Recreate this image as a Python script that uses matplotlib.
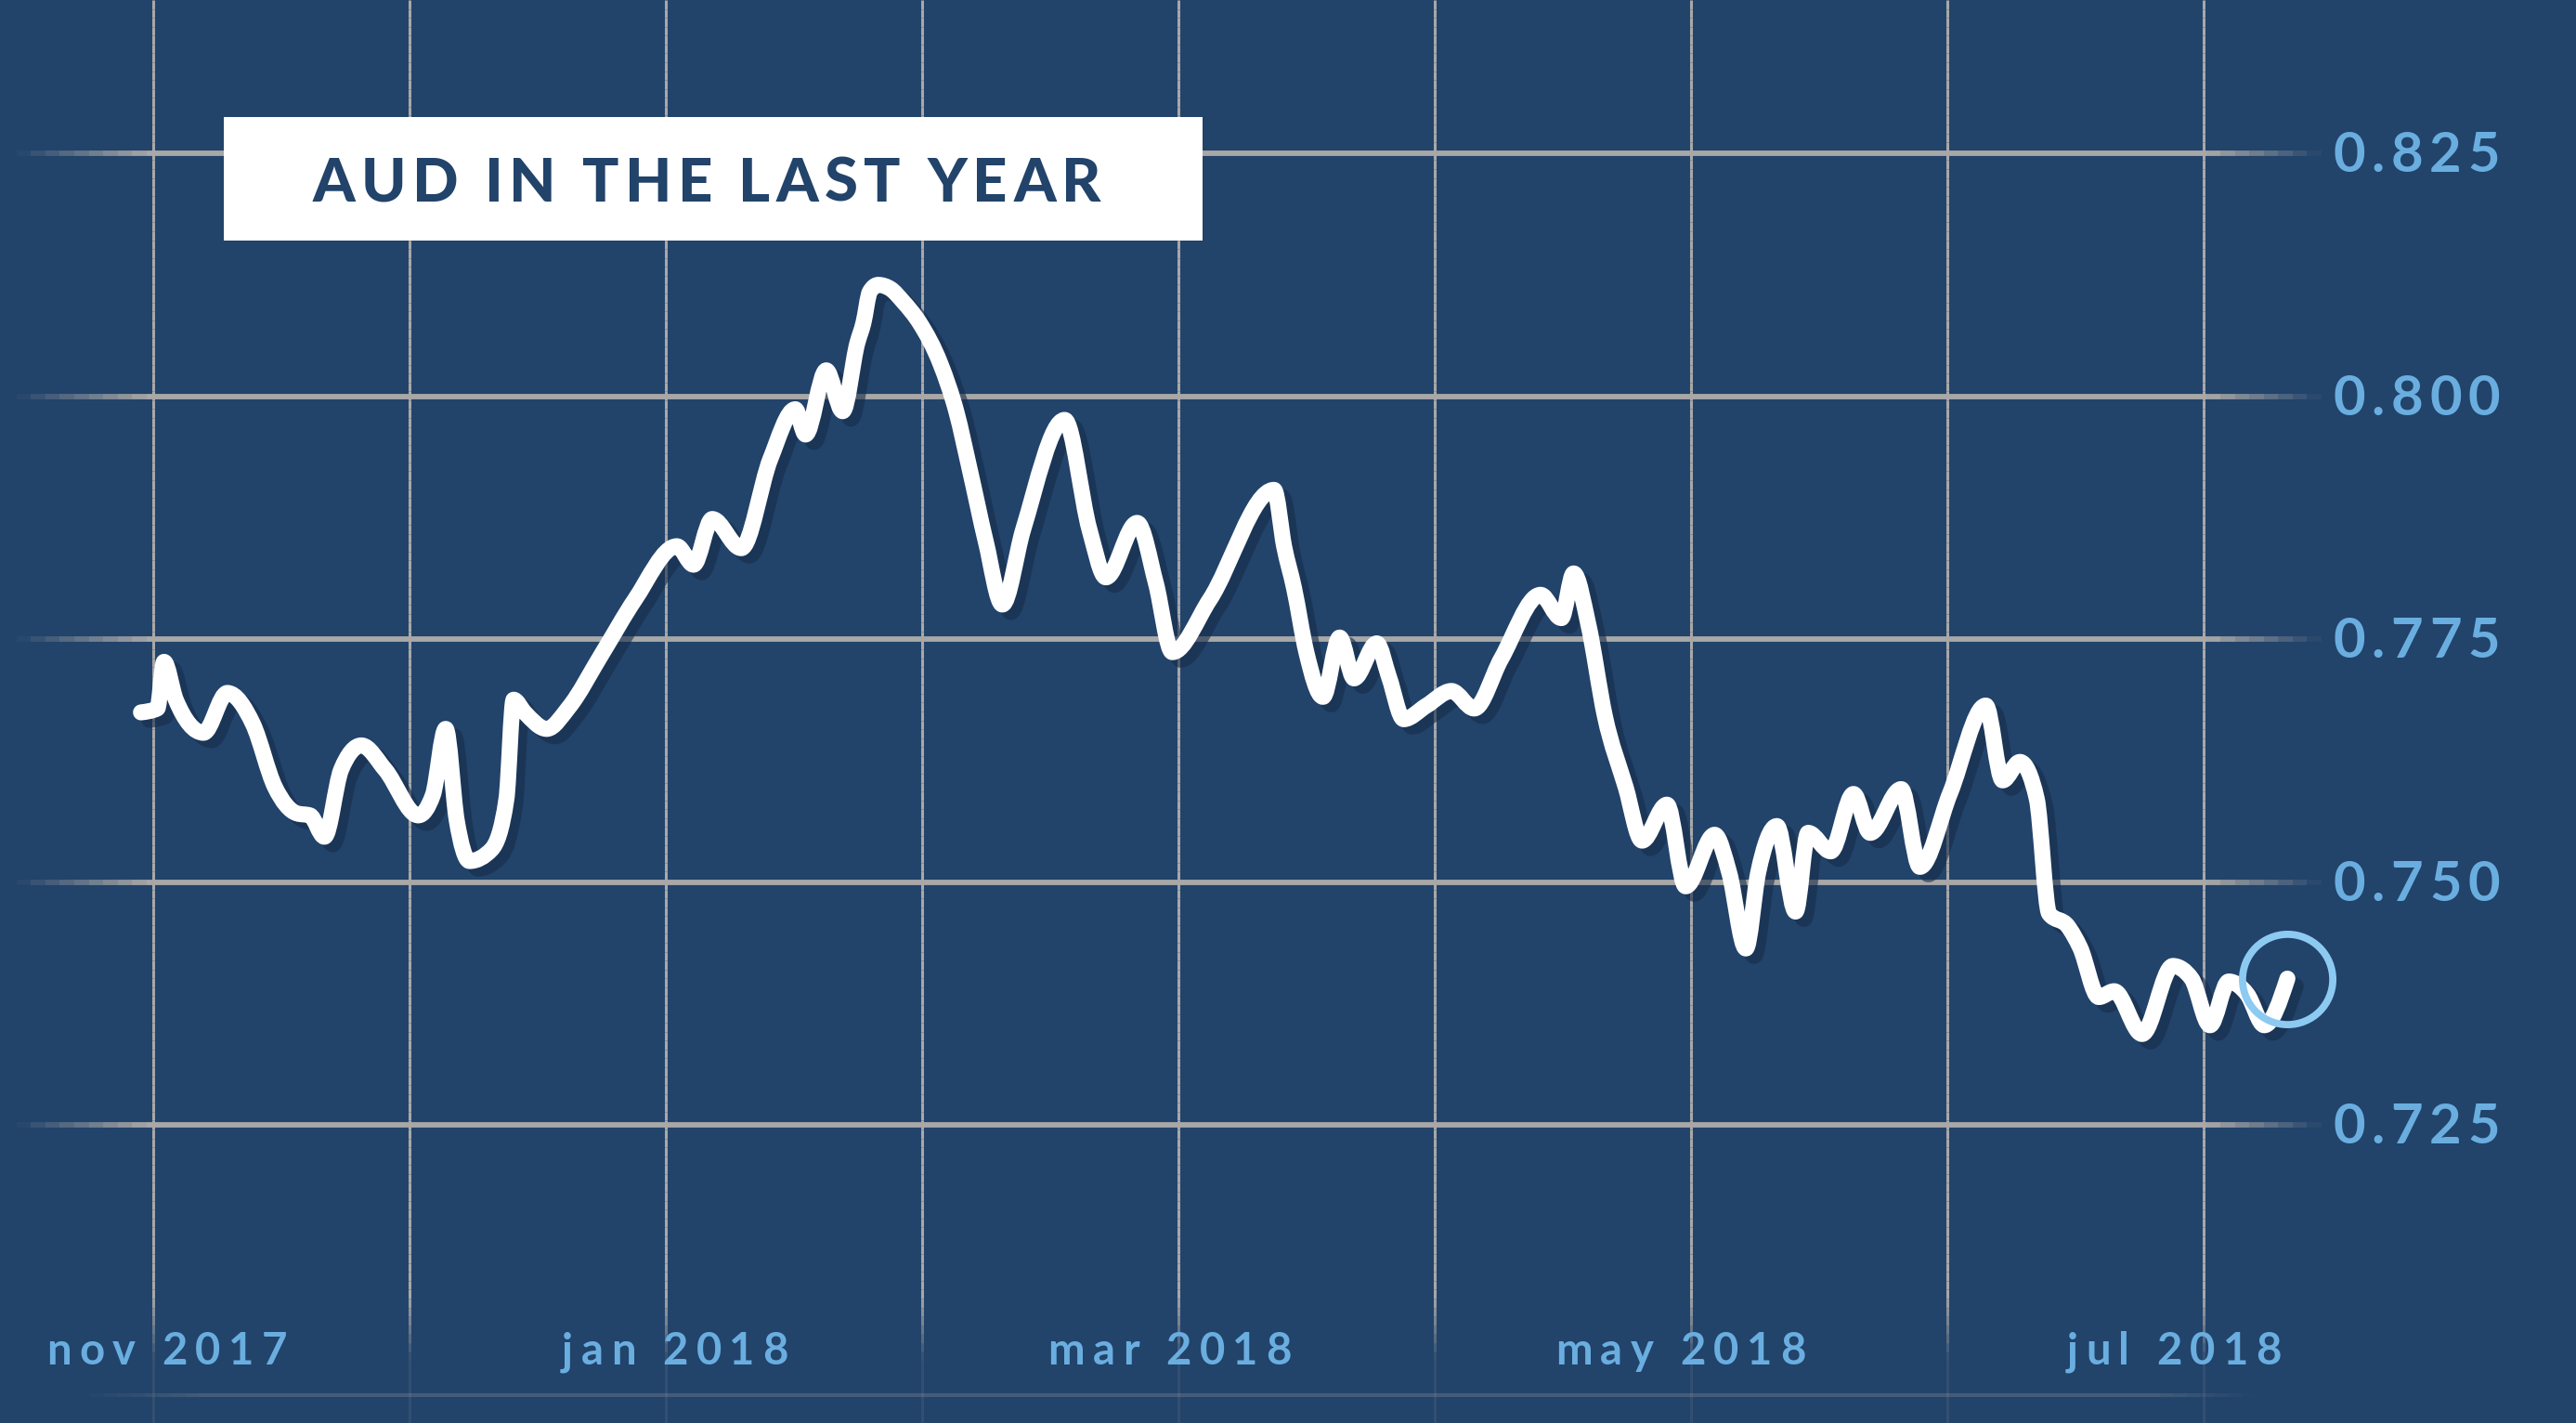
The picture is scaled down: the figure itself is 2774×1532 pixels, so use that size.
import matplotlib
matplotlib.use("Agg")
import matplotlib.pyplot as plt
import matplotlib.transforms as mtransforms
import numpy as np
from matplotlib.collections import LineCollection
from matplotlib.patches import Rectangle, PathPatch
from matplotlib.path import Path

# x is a month index: 0 = nov 2017, 1 = dec 2017 ... 8 = jul 2018
month_pos = [
    -0.048, 0.016, 0.042, 0.088, 0.196, 0.289, 0.389, 0.475, 0.561, 0.611,
    0.668, 0.733, 0.812, 0.905, 1.034, 1.091, 1.141, 1.184, 1.234, 1.320,
    1.378, 1.406, 1.449, 1.535, 1.621, 1.750, 1.879, 2.043, 2.108, 2.181,
    2.294, 2.408, 2.505, 2.545, 2.626, 2.690, 2.747, 2.771, 2.796, 2.828,
    2.876, 2.925, 2.990, 3.071, 3.135, 3.184, 3.249, 3.313, 3.394, 3.556,
    3.653, 3.717, 3.839, 3.912, 3.976, 4.122, 4.373, 4.413, 4.451,
    4.499, 4.564, 4.629, 4.685, 4.774, 4.822, 4.879, 4.968, 5.065, 5.154,
    5.259, 5.413, 5.494, 5.542, 5.599, 5.664, 5.745, 5.809, 5.906, 5.979,
    6.092, 6.149, 6.214, 6.262, 6.335, 6.408, 6.457, 6.545, 6.634, 6.699,
    6.820, 6.893, 7.011, 7.150, 7.216, 7.283, 7.349, 7.397, 7.470, 7.518,
    7.591, 7.651, 7.760, 7.880, 7.953, 8.025, 8.098, 8.170, 8.237, 8.327,
]
aud_usd = [
    0.7675, 0.7679, 0.7727, 0.7688, 0.7654, 0.7695, 0.7663, 0.7598, 0.7571, 0.7569,
    0.7547, 0.7616, 0.7641, 0.7616, 0.7569, 0.7590, 0.7658, 0.7564, 0.7522, 0.7534,
    0.7586, 0.7688, 0.7675, 0.7658, 0.7680, 0.7735, 0.7791, 0.7846, 0.7827, 0.7874,
    0.7844, 0.7936, 0.7987, 0.7961, 0.8027, 0.7985, 0.8055, 0.8076, 0.8108, 0.8115,
    0.8111, 0.8098, 0.8076, 0.8034, 0.7983, 0.7927, 0.7850, 0.7786, 0.7863, 0.7976,
    0.7863, 0.7814, 0.7870, 0.7808, 0.7737, 0.7791, 0.7904, 0.7845, 0.7803,
    0.7737, 0.7691, 0.7752, 0.7710, 0.7746, 0.7711, 0.7668, 0.7682, 0.7697, 0.7679,
    0.7730, 0.7796, 0.7772, 0.7818, 0.7766, 0.7671, 0.7598, 0.7543, 0.7580, 0.7496,
    0.7549, 0.7510, 0.7432, 0.7510, 0.7558, 0.7470, 0.7551, 0.7532, 0.7591, 0.7551,
    0.7596, 0.7516, 0.7592, 0.7682, 0.7605, 0.7624, 0.7586, 0.7468, 0.7455, 0.7433,
    0.7382, 0.7388, 0.7344, 0.7414, 0.7401, 0.7353, 0.7398, 0.7385, 0.7353, 0.7401,
]

grid_months = list(range(9))
tick_months = [0.053, 2.036, 3.966, 5.959, 7.885]
tick_labels = ["nov 2017", "jan 2018", "mar 2018", "may 2018", "jul 2018"]
y_ticks = [0.725, 0.750, 0.775, 0.800, 0.825]
title = "AUD IN THE LAST YEAR"

BG = "#22436a"
GRID = "#a8a8a8"
LABEL = "#6aaee0"
RING = "#8ccaf2"
SHADOW = "#162c4a"
FONT = ["Lato", "DejaVu Sans"]

fig = plt.figure(figsize=(13.87, 7.66), dpi=200, facecolor=BG)
ax = fig.add_axes([0, 0, 1, 1])
ax.set_facecolor(BG)
ax.set_xlim(-0.598, 9.453)
ax.set_ylim(0.69436, 0.84082)
ax.axis("off")
renderer = fig.canvas.get_renderer()


def faded_line(pos, alphas, stops, color, lw, horizontal=True, n=160):
    # line whose alpha follows (stops, alphas) along its length
    t = np.linspace(stops[0], stops[-1], n + 1)
    mid = (t[:-1] + t[1:]) / 2
    a = np.interp(mid, stops, alphas)
    if horizontal:
        segs = [[(t[i], pos), (t[i + 1], pos)] for i in range(n)]
    else:
        segs = [[(pos, t[i]), (pos, t[i + 1])] for i in range(n)]
    rgba = np.array([matplotlib.colors.to_rgba(color, al) for al in a])
    ax.add_collection(LineCollection(segs, colors=rgba, linewidths=lw,
                                     capstyle="butt", zorder=1))


def text_w(s, **kw):
    t = ax.text(0, 0, s, **kw)
    w = t.get_window_extent(renderer).width
    t.remove()
    return w


def tracked_text(x, y, s, width_px, ha="left", transform=None, **kw):
    # letter-spaced text: chars placed one by one so the string spans width_px
    transform = transform or ax.transData
    lefts, idx = [], []
    for i, ch in enumerate(s):
        if ch == " ":
            continue
        lefts.append(text_w(s[:i + 1], **kw) - text_w(ch, **kw))
        idx.append(i)
    natural = text_w(s, **kw)
    track = (width_px - natural) / max(len(s) - 1, 1)
    start = {"left": 0, "center": -width_px / 2, "right": -width_px}[ha]
    for left, i in zip(lefts, idx):
        tr = mtransforms.offset_copy(transform, fig=fig, x=start + left + i * track,
                                     y=0, units="dots")
        ax.text(x, y, s[i], transform=tr, ha="left", **kw)
    return track


def monotone_path(xs, ys):
    # monotone cubic (Fritsch-Carlson, like d3.curveMonotoneX) as Bezier path
    xs, ys = np.asarray(xs, float), np.asarray(ys, float)
    h = np.diff(xs)
    s = np.diff(ys) / h
    m = np.zeros_like(xs)
    for k in range(1, len(xs) - 1):
        p = (s[k - 1] * h[k] + s[k] * h[k - 1]) / (h[k - 1] + h[k])
        m[k] = (np.sign(s[k - 1]) + np.sign(s[k])) * min(abs(s[k - 1]), abs(s[k]), 0.5 * abs(p))
    m[0] = (3 * s[0] - m[1]) / 2
    m[-1] = (3 * s[-1] - m[-2]) / 2
    verts, codes = [(xs[0], ys[0])], [Path.MOVETO]
    for k in range(len(h)):
        d = h[k] / 3
        verts += [(xs[k] + d, ys[k] + m[k] * d), (xs[k + 1] - d, ys[k + 1] - m[k + 1] * d),
                  (xs[k + 1], ys[k + 1])]
        codes += [Path.CURVE4] * 3
    return Path(verts, codes)


# vertical month grid, fading out near the bottom
for mo in grid_months:
    faded_line(mo, [0.12, 0.12, 1, 1], [0.69436, 0.7010, 0.7075, 0.84082],
               GRID, 1.1, horizontal=False)

# horizontal value grid, fading at both ends
for yv in y_ticks:
    faded_line(yv, [0, 1, 1, 0], [-0.533, -0.02, 8.02, 8.46], GRID, 2.1)

# faint rule under the month labels
faded_line(0.6972, [0, 0.25, 0.25, 0], [-0.3, 0.2, 7.8, 8.2], GRID, 1.5)

# price line with a drop shadow
line_path = monotone_path(month_pos, aud_usd)
shadow_tr = mtransforms.offset_copy(ax.transData, fig=fig, x=9, y=-8, units="dots")
ax.add_patch(PathPatch(line_path, facecolor="none", edgecolor=SHADOW, alpha=0.6,
                       lw=6.2, capstyle="round", joinstyle="round",
                       transform=shadow_tr, zorder=2))
ax.add_patch(PathPatch(line_path, facecolor="none", edgecolor="white",
                       lw=6.2, capstyle="round", joinstyle="round", zorder=3))

# ring around the latest value
ax.plot(month_pos[-1], aud_usd[-1], marker="o", markersize=35, mfc="none",
        mec=RING, mew=2.8, zorder=4)

# value labels on the right
for yv in y_ticks:
    tracked_text(8.504, yv - 0.0019, f"{yv:.3f}", 180, ha="left", color=LABEL,
                 fontsize=21.5, fontweight="bold", family=FONT, va="baseline", zorder=5)

# month labels along the bottom, same tracking as the first label
kw = dict(color=LABEL, fontsize=17, fontweight="bold", family=FONT, va="baseline", zorder=5)
trk = (260 - text_w(tick_labels[0], **kw)) / (len(tick_labels[0]) - 1)
for mo, lab in zip(tick_months, tick_labels):
    w = text_w(lab, **kw) + trk * (len(lab) - 1)
    tracked_text(mo, 0.70038, lab, w, ha="center", **kw)

# title in a white box
ax.add_patch(Rectangle((0.0869, 0.831), 0.38, 0.087, transform=ax.transAxes,
                       facecolor="white", edgecolor="none", zorder=6))
tracked_text(0.2745, 0.8584, title, 849, ha="center", transform=ax.transAxes,
             color=BG, fontsize=23.5, fontweight="black", family=FONT,
             va="baseline", zorder=7)

fig.savefig("out.png", dpi=200, facecolor=BG)
